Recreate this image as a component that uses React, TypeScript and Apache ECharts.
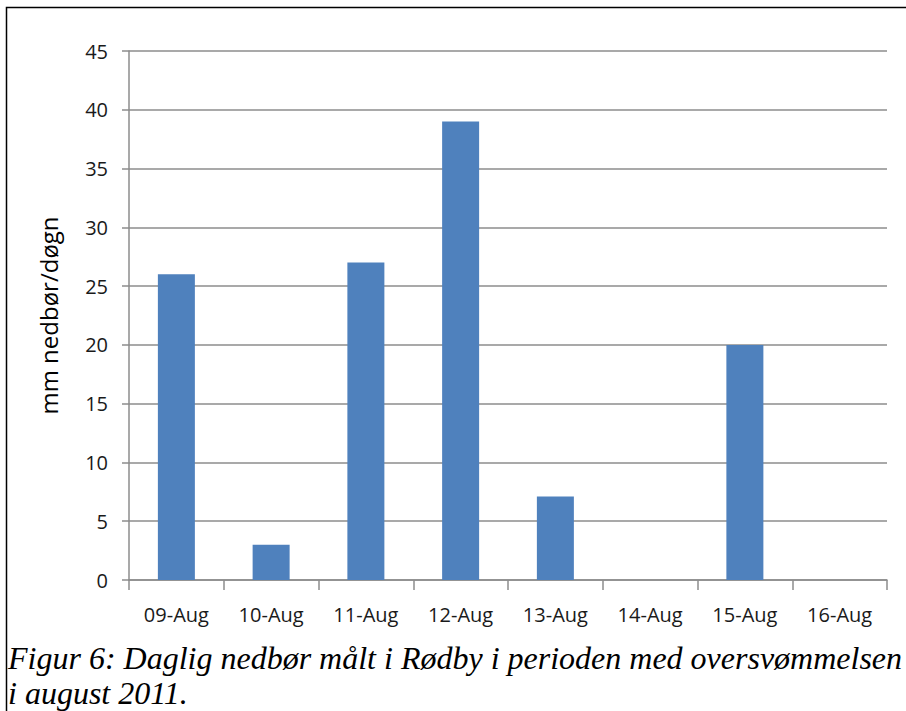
import React, { useEffect, useRef } from "react";
import * as echarts from "echarts";

const categories = ["09-Aug", "10-Aug", "11-Aug", "12-Aug", "13-Aug", "14-Aug", "15-Aug", "16-Aug"];
const rainfall = [26, 3, 27, 39, 7.1, 0, 20, 0];
const yAxisName = "mm nedbør/døgn";
const captionLine1 = "Figur 6: Daglig nedbør målt i Rødby i perioden med oversvømmelsen";
const captionLine2 = "i august 2011.";

export default function App() {
  const ref = useRef<HTMLDivElement>(null);
  useEffect(() => {
    if (!ref.current) return;
    const chart = echarts.init(ref.current, null, { renderer: "svg" });
    chart.setOption({
      animation: false,
      backgroundColor: "#ffffff",
      grid: { left: 129, right: 19, top: 51, bottom: 131, containLabel: false },
      xAxis: {
        type: "category",
        data: categories,
        axisLine: { show: true, lineStyle: { color: "#8c8c8c", width: 1.5 } },
        axisTick: { show: true, length: 10, alignWithLabel: false, lineStyle: { color: "#8c8c8c", width: 1.5 } },
        axisLabel: { color: "#1a1a1a", fontFamily: "Open Sans", fontSize: 20, margin: 24 },
        splitLine: { show: false },
      },
      yAxis: {
        type: "value",
        min: 0,
        max: 45,
        interval: 5,
        name: yAxisName,
        nameLocation: "middle",
        nameGap: 69,
        nameRotate: 90,
        nameTextStyle: { color: "#000000", fontFamily: "Open Sans", fontSize: 24 },
        axisLine: { show: true, lineStyle: { color: "#8c8c8c", width: 1.5 } },
        axisTick: { show: true, length: 7, lineStyle: { color: "#8c8c8c", width: 1.5 } },
        axisLabel: { color: "#1a1a1a", fontFamily: "Open Sans", fontSize: 20, margin: 21, padding: [5, 0, 0, 0] },
        splitLine: { show: true, lineStyle: { color: "#8c8c8c", width: 1.5 } },
      },
      series: [
        {
          type: "bar",
          data: rainfall,
          barWidth: 37,
          itemStyle: { color: "#4f81bd" },
        },
      ],
      graphic: [
        {
          type: "rect",
          shape: { x: 6.5, y: 7.5, width: 920, height: 720 },
          style: { fill: "none", stroke: "#000000", lineWidth: 1.5 },
          silent: true,
        },
        {
          type: "text",
          x: 8,
          y: 674,
          style: {
            text: captionLine1,
            font: "italic 32px 'Liberation Serif', 'Times New Roman', serif",
            fill: "#000000",
            textAlign: "left",
            textVerticalAlign: "bottom",
          },
        },
        {
          type: "text",
          x: 8,
          y: 709,
          style: {
            text: captionLine2,
            font: "italic 32px 'Liberation Serif', 'Times New Roman', serif",
            fill: "#000000",
            textAlign: "left",
            textVerticalAlign: "bottom",
          },
        },
      ],
    });
    return () => chart.dispose();
  }, []);
  return (
    <div
      ref={ref}
      style={{ position: "fixed", left: 0, top: 0, width: 906, height: 711 }}
    />
  );
}
